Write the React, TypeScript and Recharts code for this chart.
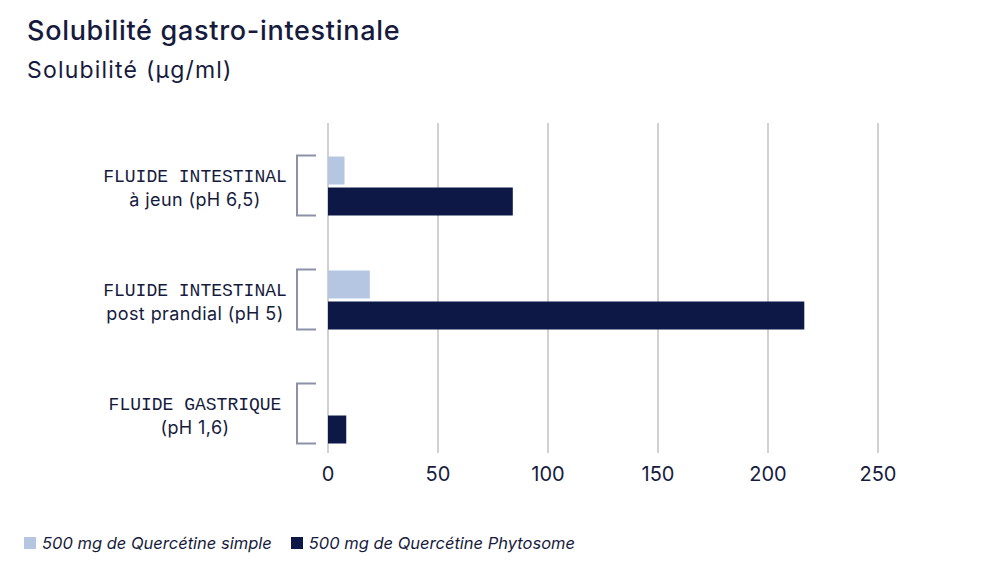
import { BarChart, Bar, XAxis, YAxis, CartesianGrid } from 'recharts';

const labelTop = ['FLUIDE INTESTINAL', 'FLUIDE INTESTINAL', 'FLUIDE GASTRIQUE'];
const labelBottom = ['à jeun (pH 6,5)', 'post prandial (pH 5)', '(pH 1,6)'];
const simpleValues = [7.5, 19, 0];
const phytosomeValues = [84, 216.5, 8.3];
const xTicks = [0, 50, 100, 150, 200, 250];
const seriesNames = ['500 mg de Quercétine simple', '500 mg de Quercétine Phytosome'];

const LIGHT = '#b4c6e2';
const DARK = '#0d1846';
const INK = '#161b3d';
const SANS = 'Inter, "Noto Sans", sans-serif';

const chartData = labelTop.map((top, i) => ({
  name: `${top}|${labelBottom[i]}`,
  simple: simpleValues[i],
  phytosome: phytosomeValues[i],
}));

function CategoryTick({ x, y, payload }: any) {
  const [top, bottom] = String(payload.value).split('|');
  return (
    <g>
      <path
        d={`M${x - 12},${y - 30} H${x - 31} V${y + 30} H${x - 12}`}
        fill="none"
        stroke="#8d91a8"
        strokeWidth={2}
      />
      <text
        x={x - 133}
        y={y - 4}
        textAnchor="middle"
        fontFamily='"Liberation Mono", monospace'
        fontSize={18}
        fill={INK}
      >
        {top}
      </text>
      <text
        x={x - 133}
        y={y + 20}
        textAnchor="middle"
        fontFamily={SANS}
        fontSize={18}
        letterSpacing={0.4}
        fill={INK}
      >
        {bottom}
      </text>
    </g>
  );
}

export default function App() {
  return (
    <div
      style={{
        position: 'absolute',
        left: 0,
        top: 0,
        width: 1000,
        height: 563,
        background: '#fff',
        fontFamily: SANS,
        color: INK,
      }}
    >
      <div
        style={{
          position: 'absolute',
          left: 27,
          top: 14,
          fontSize: 27,
          fontWeight: 500,
          letterSpacing: 0.7,
          lineHeight: '34px',
        }}
      >
        Solubilité gastro-intestinale
      </div>
      <div style={{ position: 'absolute', left: 27, top: 55, fontSize: 23, letterSpacing: 1.2, lineHeight: '30px' }}>
        Solubilité (µg/ml)
      </div>

      <BarChart
        width={1000}
        height={563}
        data={chartData}
        layout="vertical"
        margin={{ top: 123, right: 122, bottom: 80, left: 0 }}
        barSize={28}
        barGap={3}
      >
        <CartesianGrid horizontal={false} stroke="#c2c2c2" strokeWidth={1.5} />
        <XAxis
          type="number"
          domain={[0, 250]}
          ticks={xTicks}
          axisLine={false}
          tickLine={false}
          tickMargin={8}
          tick={{ fill: INK, fontSize: 20, fontFamily: SANS }}
        />
        <YAxis
          type="category"
          dataKey="name"
          width={328}
          axisLine={false}
          tickLine={false}
          tickSize={0}
          tickMargin={0}
          padding={{ top: 5.5, bottom: -17.5 }}
          tick={<CategoryTick />}
        />
        <Bar dataKey="simple" fill={LIGHT} isAnimationActive={false} />
        <Bar dataKey="phytosome" fill={DARK} isAnimationActive={false} />
      </BarChart>

      <div
        style={{
          position: 'absolute',
          left: 24,
          top: 532,
          display: 'flex',
          alignItems: 'center',
          fontSize: 16.5,
          fontStyle: 'italic',
          lineHeight: '22px',
        }}
      >
        {seriesNames.map((name, i) => (
          <div key={name} style={{ display: 'flex', alignItems: 'center', marginRight: 19 }}>
            <span
              style={{
                width: 12,
                height: 12,
                background: i === 0 ? LIGHT : DARK,
                marginRight: 6,
                display: 'inline-block',
              }}
            />
            {name}
          </div>
        ))}
      </div>
    </div>
  );
}
